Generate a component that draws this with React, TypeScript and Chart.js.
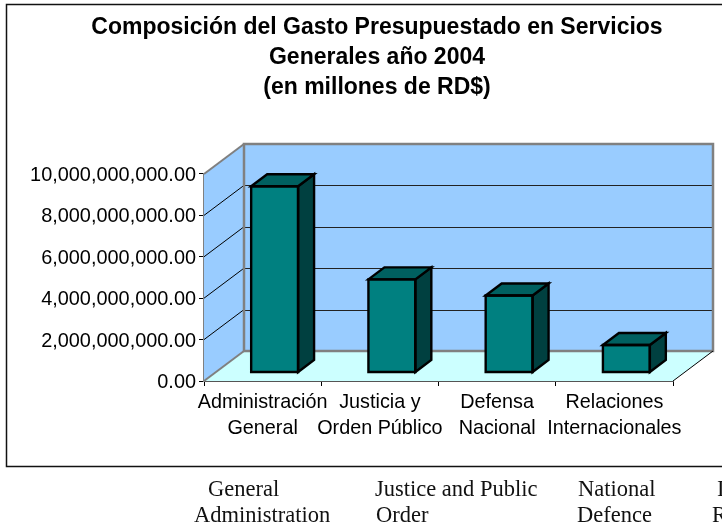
import React, { useEffect, useRef } from "react";
import { Chart, registerables } from "chart.js";

Chart.register(...registerables);

const categories = [
  ["Administración", "General"],
  ["Justicia y", "Orden Público"],
  ["Defensa", "Nacional"],
  ["Relaciones", "Internacionales"],
];
const values = [9000000000, 4500000000, 3720000000, 1330000000];
const titleLines = [
  "Composición del Gasto Presupuestado en Servicios",
  "Generales año 2004",
  "(en millones de RD$)",
];
const englishFirstLine = ["General", "Justice and Public", "National", "International"];
const englishSecondLine = ["Administration", "Order", "Defence", "Relations"];

const SANS = '"Liberation Sans", Arial, sans-serif';
const SERIF = '"Liberation Serif", "Times New Roman", serif';

const DEPTH_X = 40;
const DEPTH_Y = 30;
const BAR_SHIFT_X = 12;
const BAR_SHIFT_Y = 8.5;
const BAR_DEPTH_X = 16;
const BAR_DEPTH_Y = 12;

function poly(ctx: CanvasRenderingContext2D, pts: number[][], fill?: string, stroke?: string, lw = 1) {
  ctx.beginPath();
  pts.forEach((p, i) => (i ? ctx.lineTo(p[0], p[1]) : ctx.moveTo(p[0], p[1])));
  ctx.closePath();
  if (fill) {
    ctx.fillStyle = fill;
    ctx.fill();
  }
  if (stroke) {
    ctx.strokeStyle = stroke;
    ctx.lineWidth = lw;
    ctx.lineJoin = "miter";
    ctx.stroke();
  }
}

function seg(ctx: CanvasRenderingContext2D, x1: number, y1: number, x2: number, y2: number, color: string, lw: number) {
  ctx.beginPath();
  ctx.moveTo(x1, y1);
  ctx.lineTo(x2, y2);
  ctx.strokeStyle = color;
  ctx.lineWidth = lw;
  ctx.stroke();
}

const framePlugin = {
  id: "frame3d",
  beforeDraw(chart: any) {
    const ctx: CanvasRenderingContext2D = chart.ctx;
    // centre the title over the whole plot including its depth
    chart.titleBlock.left = 81;
    chart.titleBlock.right = 673;
    ctx.save();
    ctx.fillStyle = "#ffffff";
    ctx.fillRect(0, 0, chart.width, chart.height);
    // outer frame of the embedded chart, open at the right edge
    ctx.beginPath();
    ctx.moveTo(chart.width, 4.5);
    ctx.lineTo(6.5, 4.5);
    ctx.lineTo(6.5, 466.5);
    ctx.lineTo(chart.width, 466.5);
    ctx.strokeStyle = "#111111";
    ctx.lineWidth = 1.5;
    ctx.stroke();
    ctx.restore();
  },
  beforeDatasetsDraw(chart: any) {
    const ctx: CanvasRenderingContext2D = chart.ctx;
    const { left, right, top, bottom } = chart.chartArea;
    const y = chart.scales.y;
    const bl = left + DEPTH_X;
    const br = right + DEPTH_X;
    const bt = top - DEPTH_Y;
    const bb = bottom - DEPTH_Y;
    ctx.save();
    // floor, side wall, back wall
    poly(ctx, [[left, bottom], [right, bottom], [br, bb], [bl, bb]], "#CCFFFF");
    poly(ctx, [[left, bottom], [left, top], [bl, bt], [bl, bb]], "#99CCFF");
    poly(ctx, [[bl, bt], [br, bt], [br, bb], [bl, bb]], "#99CCFF");
    // gridlines across side wall and back wall
    y.ticks.forEach((t: any) => {
      if (t.value === 0 || t.value === y.max) return;
      const py = y.getPixelForValue(t.value);
      seg(ctx, left, py, bl, py - DEPTH_Y, "#000000", 1);
      seg(ctx, bl, Math.round(py - DEPTH_Y) + 0.5, br, Math.round(py - DEPTH_Y) + 0.5, "#222222", 1);
    });
    // wall outlines
    seg(ctx, left, top, bl, bt, "#808080", 2);
    seg(ctx, left, bottom, bl, bb, "#808080", 2);
    poly(ctx, [[bl, bt], [br, bt], [br, bb], [bl, bb]], undefined, "#808080", 2.5);
    seg(ctx, right, bottom, br, bb, "#000000", 1);
    ctx.restore();
    // the bars sit part way into the floor depth
    ctx.save();
    ctx.translate(BAR_SHIFT_X, -BAR_SHIFT_Y);
  },
  afterDatasetsDraw(chart: any) {
    const ctx: CanvasRenderingContext2D = chart.ctx;
    chart.getDatasetMeta(0).data.forEach((bar: any) => {
      const l = bar.x - bar.width / 2;
      const r = bar.x + bar.width / 2;
      const t = bar.y;
      const b = bar.base;
      poly(ctx, [[r, t], [r + BAR_DEPTH_X, t - BAR_DEPTH_Y], [r + BAR_DEPTH_X, b - BAR_DEPTH_Y], [r, b]], "#004040", "#000000", 2.4);
      poly(ctx, [[l, t], [l + BAR_DEPTH_X, t - BAR_DEPTH_Y], [r + BAR_DEPTH_X, t - BAR_DEPTH_Y], [r, t]], "#006060", "#000000", 2.4);
      poly(ctx, [[l, t], [r, t], [r, b], [l, b]], undefined, "#000000", 2.4);
    });
    ctx.restore();
  },
  afterDraw(chart: any) {
    const ctx: CanvasRenderingContext2D = chart.ctx;
    ctx.save();
    ctx.font = `22.5px ${SERIF}`;
    ctx.fillStyle = "#111111";
    ctx.textBaseline = "alphabetic";
    const firstX = [208, 375, 578, 717];
    const secondX = [194, 376, 577, 712];
    englishFirstLine.forEach((s, i) => ctx.fillText(s, firstX[i], 496));
    englishSecondLine.forEach((s, i) => ctx.fillText(s, secondX[i], 522));
    ctx.restore();
  },
};

export default function App() {
  const ref = useRef<HTMLCanvasElement>(null);
  useEffect(() => {
    const chart = new Chart(ref.current!, {
      type: "bar",
      data: {
        labels: categories,
        datasets: [
          {
            data: values,
            backgroundColor: "#008080",
            borderWidth: 0,
            categoryPercentage: 0.4,
            barPercentage: 1,
          },
        ],
      },
      plugins: [framePlugin],
      options: {
        responsive: false,
        animation: false,
        layout: { padding: { left: 8, right: 49, top: 8, bottom: 0 } },
        plugins: {
          legend: { display: false },
          tooltip: { enabled: false },
          title: {
            display: true,
            text: titleLines,
            color: "#000000",
            font: { family: SANS, size: 23, weight: "bold", lineHeight: 1.304 },
            padding: { top: 5, bottom: 71 },
          },
        },
        scales: {
          x: {
            offset: true,
            grid: { display: true, offset: true, drawOnChartArea: false, drawTicks: true, tickLength: 5, color: "#000000" },
            border: { display: true, color: "#555555", width: 2 },
            ticks: {
              autoSkip: false,
              maxRotation: 0,
              minRotation: 0,
              padding: 4,
              color: "#000000",
              font: { family: SANS, size: 19.8, lineHeight: 1.31 },
            },
            afterFit(scale: any) {
              scale.height = 148;
            },
          },
          y: {
            min: 0,
            max: 10000000000,
            grid: { display: true, drawOnChartArea: false, drawTicks: true, tickLength: 5, color: "#000000" },
            border: { display: true, color: "#808080", width: 1.5 },
            ticks: {
              stepSize: 2000000000,
              padding: 3,
              labelOffset: 1.5,
              color: "#000000",
              font: { family: SANS, size: 19.9 },
              callback: (v: any) =>
                Number(v).toLocaleString("en-US", { minimumFractionDigits: 2, maximumFractionDigits: 2 }),
            },
            afterFit(scale: any) {
              scale.width = 196;
            },
          },
        },
      },
    } as any);
    return () => chart.destroy();
  }, []);
  return (
    <canvas
      ref={ref}
      width={722}
      height={529}
      style={{ position: "absolute", left: 0, top: 0, width: 722, height: 529, display: "block" }}
    />
  );
}
